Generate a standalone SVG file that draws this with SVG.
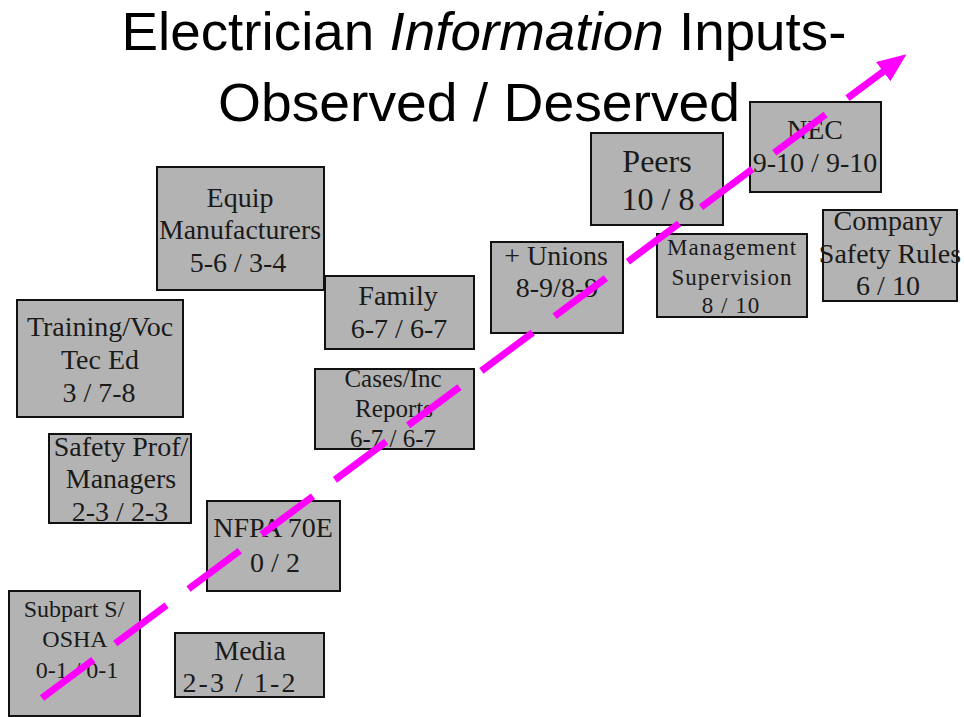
<svg xmlns="http://www.w3.org/2000/svg" width="964" height="717" viewBox="0 0 964 717">
<style>
.box{fill:#b3b3b3;stroke:#111;stroke-width:2}
.t{font-family:"Liberation Serif","Times New Roman",serif;font-size:28px;fill:#1a1a1a;text-anchor:middle}
.s24{font-size:24px}
.s25{font-size:25px}
.s32{font-size:32px}
.s23{font-size:23px;letter-spacing:1px}
.title{font-family:"Liberation Sans",Arial,sans-serif;font-size:54px;fill:#000;text-anchor:middle}
.conn{fill:none;stroke:#ff00ff;stroke-width:7;stroke-dasharray:64 27.3}
</style>
<defs>
<marker id="ah" markerUnits="userSpaceOnUse" markerWidth="32" markerHeight="28" refX="1" refY="12" orient="auto">
<path d="M0,0 L29,12 L0,24 z" fill="#ff00ff"/>
</marker>
</defs>
<rect width="964" height="717" fill="#fff"/>
<g id="title">
<text class="title" x="484" y="50" textLength="725" lengthAdjust="spacingAndGlyphs">Electrician <tspan font-style="italic">Information</tspan> Inputs-</text>
<text class="title" x="479" y="121" textLength="522" lengthAdjust="spacingAndGlyphs">Observed / Deserved</text>
</g>
<g id="equip"><rect class="box" x="157" y="167" width="167" height="123"/>
<text class="t" x="240" y="207">Equip</text><text class="t" x="240" y="239" textLength="162" lengthAdjust="spacingAndGlyphs">Manufacturers</text><text class="t" x="238" y="272">5-6 / 3-4</text></g>
<g id="training"><rect class="box" x="17" y="300" width="166" height="117"/>
<text class="t" x="100" y="336">Training/Voc</text><text class="t" x="100" y="369">Tec Ed</text><text class="t" x="99" y="402">3 / 7-8</text></g>
<g id="safetyprof"><rect class="box" x="49" y="434" width="142" height="89"/>
<text class="t" x="121" y="456">Safety Prof/</text><text class="t" x="121" y="488">Managers</text><text class="t" x="120" y="521">2-3 / 2-3</text></g>
<g id="nfpa"><rect class="box" x="207" y="501" width="133" height="90"/>
<text class="t" x="273" y="537">NFPA 70E</text><text class="t" x="275" y="572">0 / 2</text></g>
<g id="subpart"><rect class="box" x="9" y="591" width="131" height="125"/>
<text class="t s24" x="74" y="617">Subpart S/</text><text class="t s24" x="75" y="647">OSHA</text><text class="t s24" x="77" y="678">0-1 / 0-1</text></g>
<g id="media"><rect class="box" x="175" y="633" width="149" height="64"/>
<text class="t" x="250" y="660">Media</text><text class="t" x="239" y="692" textLength="113" lengthAdjust="spacing">2-3 / 1-2</text></g>
<g id="family"><rect class="box" x="325" y="276" width="149" height="73"/>
<text class="t" x="398" y="305">Family</text><text class="t" x="399" y="338">6-7 / 6-7</text></g>
<g id="cases"><rect class="box" x="315" y="369" width="159" height="80"/>
<text class="t s25" x="393" y="387">Cases/Inc</text><text class="t s25" x="394" y="417">Reports</text><text class="t s25" x="393" y="447">6-7 / 6-7</text></g>
<g id="unions"><rect class="box" x="491" y="242" width="132" height="91"/>
<text class="t" x="556" y="265">+ Unions</text><text class="t" x="557" y="297">8-9/8-9</text></g>
<g id="peers"><rect class="box" x="591" y="133" width="132" height="92"/>
<text class="t s32" x="657" y="172">Peers</text><text class="t s32" x="658" y="210">10 / 8</text></g>
<g id="nec"><rect class="box" x="750" y="102" width="131" height="90"/>
<text class="t" x="815" y="139">NEC</text><text class="t" x="815" y="172">9-10 / 9-10</text></g>
<g id="management"><rect class="box" x="657" y="234" width="150" height="83"/>
<text class="t s23" x="732" y="255">Management</text><text class="t s23" x="732" y="285">Supervision</text><text class="t s23" x="731" y="313">8 / 10</text></g>
<g id="company"><rect class="box" x="823" y="210" width="134" height="91"/>
<text class="t" x="888" y="230">Company</text><text class="t" x="890" y="263">Safety Rules</text><text class="t" x="888" y="295">6 / 10</text></g>
<g id="connectors">
<path class="conn" d="M42,698 L884,71" marker-end="url(#ah)"/>
</g>
</svg>
